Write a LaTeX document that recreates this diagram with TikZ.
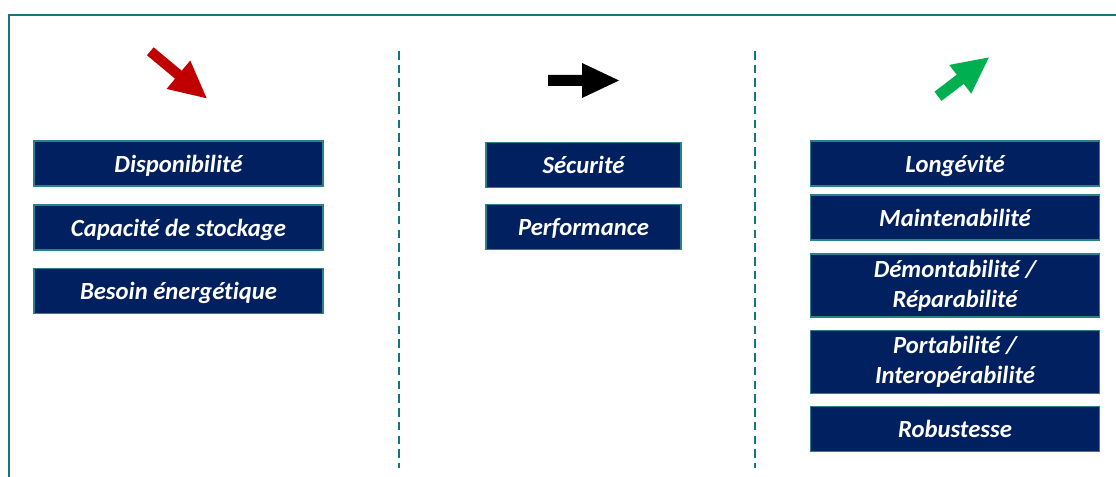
\documentclass[tikz,border=0pt]{standalone}
\usepackage{fontspec}
\setmainfont{Carlito}[Ligatures=NoCommon]
\usepackage{xcolor}
\definecolor{frameteal}{RGB}{19,117,128}
\definecolor{boxteal}{RGB}{40,130,142}
\definecolor{boxnavy}{RGB}{0,32,96}
\definecolor{trenddown}{RGB}{192,0,0}
\definecolor{trendup}{RGB}{0,176,80}
\usepackage{tikz}
\newcommand{\widthwide}{216.75pt}
\newcommand{\widthnarrow}{146.25pt}
\newcommand{\heightone}{33.75pt}
\newcommand{\heighttwo}{47pt}
\tikzset{
    frame/.style={frameteal, line width=1.5pt},
    separator/.style={frameteal, line width=1.5pt, dash pattern=on 6.4pt off 3.9pt},
    cell/.style={draw=boxteal, fill=boxnavy, line width=1.1pt, inner sep=0pt,
        minimum height=\heightone, text=white, align=center,
        font=\bfseries\itshape\fontsize{18.5}{22.5}\selectfont},
    wide/.style={cell, minimum width=\widthwide, text depth=0pt},
    narrow/.style={cell, minimum width=\widthnarrow, text depth=0pt},
    tall/.style={cell, minimum width=\widthwide, minimum height=\heighttwo},
    trend/.style={draw=none}
}

\begin{document}
\begin{tikzpicture}[x=0.75pt, y=-0.75pt]
      \useasboundingbox (0,0) rectangle (1116,477);

      \draw[frame] (9,477) -- (9,15.5) -- (1116,15.5);
      \draw[separator] (399,51) -- (399,468);
      \draw[separator] (755,51) -- (755,468);

      % trend arrows
      \fill[trend, trenddown, shift={(150.3,51.3)}, rotate=-39.8]
          (0,-5.2) -- (36.6,-5.2) -- (36.6,-18.5) -- (73.4,0) -- (36.6,18.5) -- (36.6,5.2) -- (0,5.2) -- cycle;
      \fill[trend, black, shift={(548,80.5)}]
          (0,-5.5) -- (34,-5.5) -- (34,-17.5) -- (71,0) -- (34,17.5) -- (34,5.5) -- (0,5.5) -- cycle;
      \fill[trend, trendup, shift={(938,96.3)}, rotate=37.4]
          (0,-5.8) -- (28,-5.8) -- (28,-18.1) -- (64,0) -- (28,18.1) -- (28,5.8) -- (0,5.8) -- cycle;

      \path
          (178.5,163.5) node[wide] (dispo) {Disponibilité}
          +(0,64) node[wide] (capacite) {Capacité de stockage}
          +(0,127.5) node[wide] (besoin) {Besoin énergétique};

      \path
          (583.5,165) node[narrow] (securite) {Sécurité}
          +(0,62) node[narrow] (perf) {Performance};

      \path
          (955,163.5) node[wide] (longevite) {Longévité}
          +(0,54) node[wide] (maint) {Maintenabilité}
          +(0,122) node[tall] (demont) {Démontabilité /\\Réparabilité}
          +(0,198.5) node[tall] (portab) {Portabilité /\\Interopérabilité}
          +(0,265.5) node[wide] (robust) {Robustesse};
    \end{tikzpicture}
\end{document}
